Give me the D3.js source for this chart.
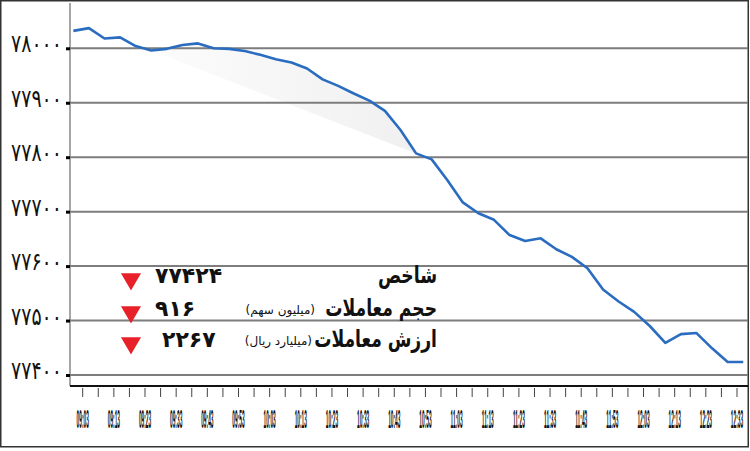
<!DOCTYPE html>
<html>
<head>
<meta charset="utf-8">
<script src="https://cdn.jsdelivr.net/npm/d3@7"></script>
<style>
  html, body { margin: 0; padding: 0; background: #fff; }
  svg { display: block; }
</style>
</head>
<body>
<svg id="chart" width="750" height="451"></svg>
<script>
// index values, every 5 minutes
var times = ["09:00","09:05","09:10","09:15","09:20","09:25","09:30","09:35","09:40","09:45",
  "09:50","09:55","10:00","10:05","10:10","10:15","10:20","10:25","10:30","10:35",
  "10:40","10:45","10:50","10:55","11:00","11:05","11:10","11:15","11:20","11:25",
  "11:30","11:35","11:40","11:45","11:50","11:55","12:00","12:05","12:10","12:15",
  "12:20","12:25","12:30","12:35"];
var values = [78032,78037,78018,78020,78004,77996,77999,78006,78009,78000,
  77999,77995,77988,77980,77974,77963,77943,77931,77917,77904,
  77885,77850,77807,77796,77758,77717,77697,77685,77657,77646,
  77651,77631,77617,77596,77557,77535,77516,77490,77459,77475,
  77477,77449,77424,77424];

var yTicks = [78000, 77900, 77800, 77700, 77600, 77500, 77400];
var xLabels = ["09:03","09:13","09:23","09:33","09:43","09:53","10:03","10:13","10:23","10:33",
  "10:43","10:53","11:03","11:13","11:23","11:33","11:43","11:53","12:03","12:13","12:23","12:33"];

var legendLabels = ["شاخص", "حجم معاملات", "ارزش معاملات"];
var legendUnits = ["", "(میلیون سهم)", "(میلیارد ریال)"];
var legendValues = [77424, 916, 2267];

var parse = d3.timeParse("%H:%M");
var data = times.map(function(t, i) { return { t: parse(t), v: values[i] }; });

var faDigits = "۰۱۲۳۴۵۶۷۸۹";
function fa(n) {
  return String(n).replace(/[0-9]/g, function(c) { return faDigits[+c]; });
}

var svg = d3.select("#chart");

var x = d3.scaleTime()
  .domain([parse("09:03"), parse("12:33")])
  .range([82.7, 737]);
var y = d3.scaleLinear()
  .domain([77400, 78000])
  .range([375, 48.3]);

// frame
svg.append("rect")
  .attr("x", 0.75).attr("y", 0.75)
  .attr("width", 747.5).attr("height", 446)
  .attr("fill", "none")
  .attr("stroke", "#333")
  .attr("stroke-width", 1.5);

// faint shadow under the bend
var defs = svg.append("defs");
var grad = defs.append("linearGradient").attr("id", "shade")
  .attr("x1", 0).attr("x2", 1).attr("y1", 0).attr("y2", 0);
grad.append("stop").attr("offset", "0%").attr("stop-color", "#fcfcfc");
grad.append("stop").attr("offset", "100%").attr("stop-color", "#f0f0f0");

var shadeData = data.filter(function(d) {
  return d.t >= parse("09:25") && d.t <= parse("10:50");
});
svg.append("path")
  .datum(shadeData)
  .attr("fill", "url(#shade)")
  .attr("d", d3.line().x(function(d) { return x(d.t); }).y(function(d) { return y(d.v); }));

// grid lines
svg.append("g")
  .selectAll("line.grid")
  .data(yTicks)
  .enter()
  .append("line")
  .classed("grid", true)
  .attr("x1", 69).attr("x2", 748)
  .attr("y1", function(d) { return y(d); })
  .attr("y2", function(d) { return y(d); })
  .attr("stroke", "#7d7d7d")
  .attr("stroke-width", 2);

// y axis
svg.append("line")
  .attr("x1", 70).attr("x2", 70)
  .attr("y1", 3).attr("y2", 386)
  .attr("stroke", "#888")
  .attr("stroke-width", 1.5);

svg.append("g")
  .selectAll("rect.ytick")
  .data(yTicks)
  .enter()
  .append("rect")
  .attr("x", 66).attr("width", 4)
  .attr("y", function(d) { return y(d) - 1; })
  .attr("height", 3)
  .attr("fill", "#000");

svg.append("g")
  .selectAll("text.ylabel")
  .data(yTicks)
  .enter()
  .append("text")
  .attr("text-anchor", "end")
  .attr("transform", function(d) { return "translate(62," + (y(d) + 4) + ") scale(0.95,1.25)"; })
  .style("font-family", "'DejaVu Sans', sans-serif")
  .style("font-size", "20px")
  .style("fill", "#111")
  .text(function(d) { return fa(d); });

// x axis
svg.append("line")
  .attr("x1", 70).attr("x2", 748)
  .attr("y1", 386).attr("y2", 386)
  .attr("stroke", "#111")
  .attr("stroke-width", 2);

var xTicks = d3.range(0, 43).map(function(i) { return d3.timeMinute.offset(parse("09:03"), i * 5); });
svg.append("g")
  .selectAll("line.xtick")
  .data(xTicks)
  .enter()
  .append("line")
  .attr("x1", function(d) { return x(d); })
  .attr("x2", function(d) { return x(d); })
  .attr("y1", 388).attr("y2", 397)
  .attr("stroke", "#444")
  .attr("stroke-width", 1);

svg.append("g")
  .selectAll("text.xlabel")
  .data(xLabels)
  .enter()
  .append("text")
  .attr("text-anchor", "middle")
  .attr("transform", function(d) { return "translate(" + x(parse(d)) + ",428) scale(0.4,2.1)"; })
  .style("font-family", "'Liberation Sans', Arial, sans-serif")
  .style("font-size", "12px")
  .style("font-weight", "bold")
  .style("fill", "#111")
  .text(function(d) { return d; });

// index line
svg.append("path")
  .datum(data)
  .attr("fill", "none")
  .attr("stroke", "#2a6cbf")
  .attr("stroke-width", 2.6)
  .attr("stroke-linejoin", "round")
  .attr("d", d3.line().x(function(d) { return x(d.t); }).y(function(d) { return y(d.v); }));

// legend
var rowY = [283, 316, 347];
var legend = svg.append("g");

legend.selectAll("path.tri")
  .data(legendValues)
  .enter()
  .append("path")
  .attr("d", d3.symbol().type(d3.symbolTriangle).size(175))
  .attr("transform", function(d, i) { return "translate(131," + (rowY[i] - 4) + ") rotate(180)"; })
  .attr("fill", "#e8202a");

legend.selectAll("text.val")
  .data(legendValues)
  .enter()
  .append("text")
  .attr("x", function(d, i) { return i == 2 ? 162 : 155; })
  .attr("y", function(d, i) { return rowY[i]; })
  .style("font-family", "'DejaVu Sans', sans-serif")
  .style("font-size", "22px")
  .style("font-weight", "bold")
  .style("fill", "#111")
  .text(function(d) { return fa(d); });

legend.selectAll("text.lab")
  .data(legendLabels)
  .enter()
  .append("text")
  .attr("text-anchor", "end")
  .attr("transform", function(d, i) { return "translate(437," + rowY[i] + ") scale(0.78,1.05)"; })
  .style("font-family", "'DejaVu Sans', sans-serif")
  .style("font-size", "22px")
  .style("font-weight", "bold")
  .style("fill", "#111")
  .text(function(d) { return d; });

legend.selectAll("text.unit")
  .data(legendUnits)
  .enter()
  .append("text")
  .attr("x", function(d, i) { return i == 2 ? 312 : 315; })
  .attr("y", function(d, i) { return rowY[i] - 2; })
  .attr("text-anchor", "end")
  .style("font-family", "'DejaVu Sans', sans-serif")
  .style("font-size", "12px")
  .style("fill", "#111")
  .text(function(d) { return d; });
</script>
</body>
</html>
